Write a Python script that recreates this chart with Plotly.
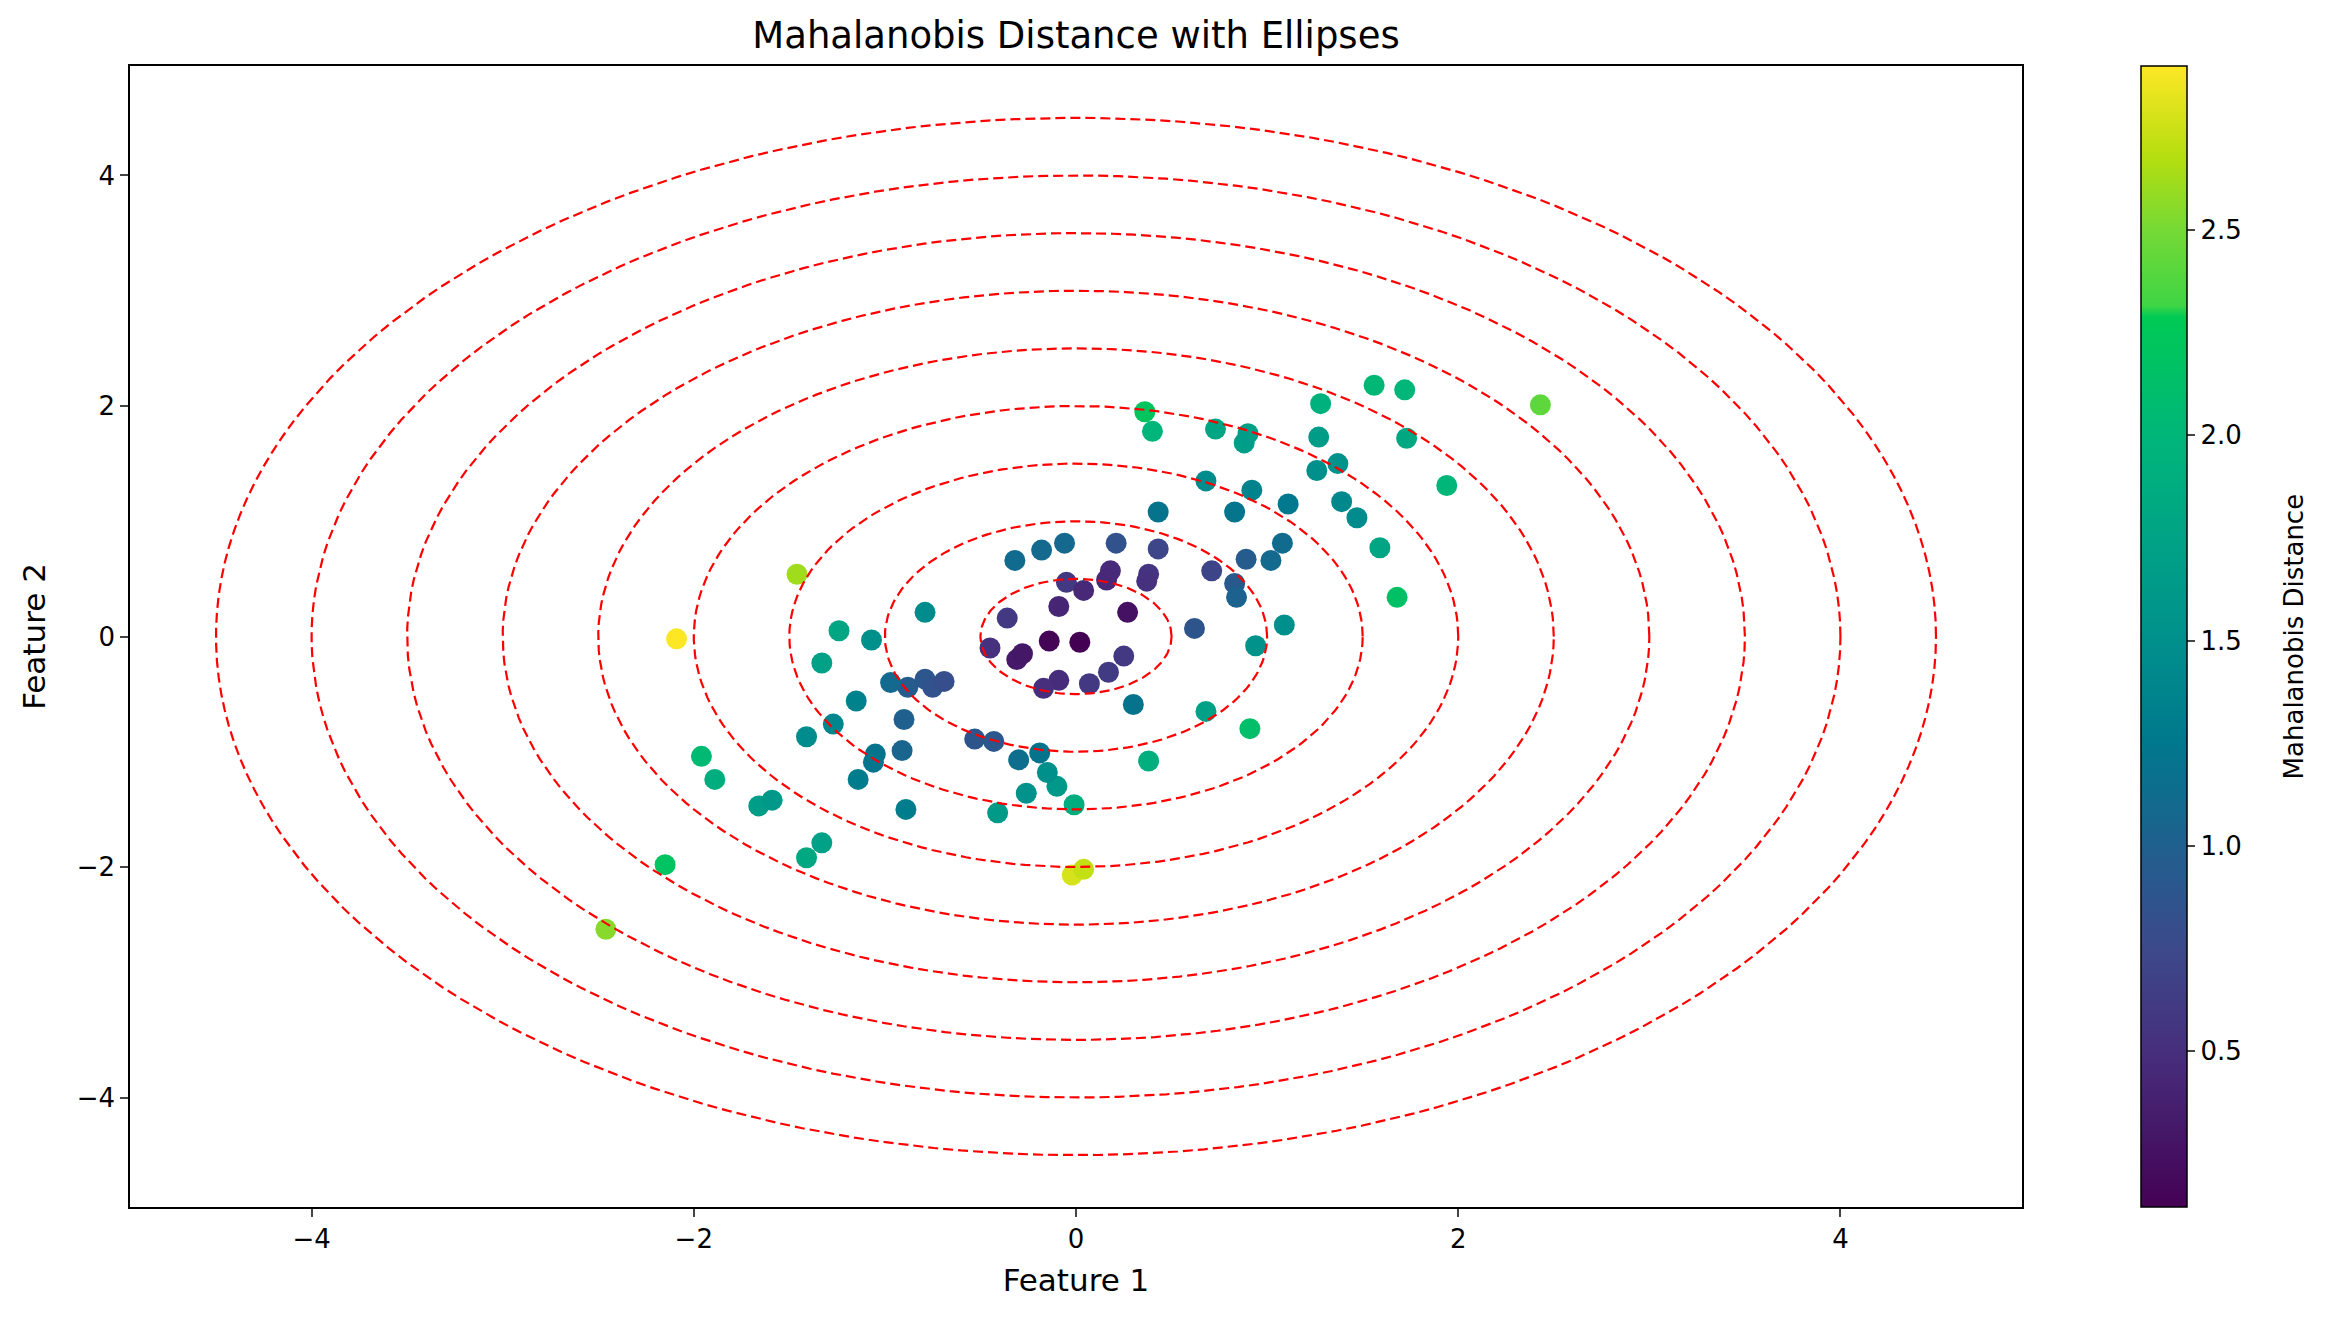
import numpy as np
import plotly.graph_objects as go

# Scatter points (Feature 1, Feature 2, Mahalanobis distance)
feature_1 = [
    2.43, 1.56, 1.72, 1.28, 0.36, 0.40, 0.73, 0.88, 0.90, 1.27,
    1.73, 1.94, 0.68, 0.92, 1.37, 1.26, 1.11, 1.39, 1.47, 0.43,
    0.83, 1.59, 1.68, 1.02, 1.08, 0.89, 0.83, 0.84, 1.09, 0.94,
    0.62, 0.71, 0.43, 0.21, 0.38, 0.37, 0.18, 0.16, -0.06, -0.18,
    -0.32, -0.05, 0.04, -0.09, 0.27, -0.36, -0.45, -0.14, 0.02, -0.31,
    -0.28, 0.25, 0.17, -0.09, -0.17, 0.07, 0.30, 0.68, 0.91, 0.38,
    -0.01, -0.10, -0.15, -0.19, -0.30, -0.26, -0.41, -0.53, -0.43, -0.02,
    0.04, -0.89, -0.91, -0.90, -0.88, -0.97, -0.79, -0.75, -0.69, -0.79,
    -1.07, -1.15, -1.27, -1.05, -1.06, -1.14, -1.41, -1.24, -1.33, -1.46,
    -2.09, -1.96, -1.89, -1.66, -1.59, -1.33, -1.41, -2.15, -2.46,
]
feature_2 = [
    2.01, 2.18, 2.14, 2.02, 1.95, 1.78, 1.80, 1.68, 1.76, 1.73,
    1.72, 1.31, 1.35, 1.27, 1.50, 1.44, 1.15, 1.17, 1.03, 1.08,
    1.08, 0.77, 0.34, 0.66, 0.81, 0.67, 0.46, 0.34, 0.10, -0.08,
    0.07, 0.57, 0.76, 0.81, 0.54, 0.48, 0.57, 0.49, 0.81, 0.75,
    0.66, 0.47, 0.40, 0.26, 0.21, 0.16, -0.10, -0.04, -0.05, -0.20,
    -0.15, -0.17, -0.31, -0.38, -0.45, -0.41, -0.59, -0.65, -0.80, -1.08,
    -1.46, -1.30, -1.18, -1.01, -1.07, -1.36, -1.53, -0.89, -0.91, -2.07,
    -2.02, -1.50, -0.99, -0.72, -0.44, -0.40, -0.37, -0.44, -0.39, 0.21,
    -0.03, -0.56, -0.76, -1.02, -1.09, -1.24, -0.87, 0.05, -0.23, 0.54,
    -0.02, -1.04, -1.24, -1.47, -1.42, -1.79, -1.92, -1.98, -2.54,
]
distance = [
    2.42, 2.02, 2.00, 1.93, 2.22, 1.98, 1.78, 1.68, 1.68, 1.66,
    1.82, 2.00, 1.45, 1.37, 1.52, 1.50, 1.25, 1.42, 1.45, 1.20,
    1.22, 1.78, 2.15, 1.10, 1.12, 0.95, 0.92, 1.02, 1.50, 1.52,
    0.88, 0.70, 0.72, 0.85, 0.55, 0.52, 0.47, 0.45, 1.08, 1.10,
    1.12, 0.60, 0.45, 0.42, 0.25, 0.60, 0.52, 0.15, 0.12, 0.32,
    0.30, 0.60, 0.62, 0.48, 0.50, 0.60, 1.20, 1.72, 2.12, 1.90,
    1.88, 1.62, 1.50, 1.20, 1.15, 1.52, 1.65, 0.88, 0.90, 2.78,
    2.72, 1.30, 1.05, 1.00, 0.95, 1.10, 0.90, 0.85, 0.80, 1.45,
    1.50, 1.35, 1.40, 1.20, 1.22, 1.30, 1.45, 1.78, 1.72, 2.62,
    2.90, 2.05, 1.88, 1.68, 1.62, 1.72, 1.82, 2.18, 2.55,
]

# Radii of the dashed ellipses (in data units)
ellipse_radii = [0.5, 1.0, 1.5, 2.0, 2.5, 3.0, 3.5, 4.0, 4.5]

# Colorbar ticks
cbar_ticks = [0.5, 1.0, 1.5, 2.0, 2.5]
cbar_ticktext = ["0.5", "1.0", "1.5", "2.0", "2.5"]

# Viridis-like colours as they appear in the reference colorbar
colorscale = [
    [0.0, "#440154"],
    [0.137, "#472f7d"],
    [0.23, "#3b4a8b"],
    [0.317, "#1f608e"],
    [0.407, "#00788d"],
    [0.496, "#00908c"],
    [0.586, "#00a386"],
    [0.676, "#00b679"],
    [0.78, "#00ca55"],
    [0.79, "#3fd545"],
    [0.856, "#75d935"],
    [0.92, "#b5de10"],
    [1.0, "#fde725"],
]

FONT = "DejaVu Sans"


def make_ellipse(radius: float, n: int = 200) -> go.Scatter:
    """
    Dashed red ellipse centred on the origin.

    Args:
        radius (float): Semi-axis length.
        n (int): Number of points along the outline.
    """
    theta = np.linspace(0, 2 * np.pi, n)
    return go.Scatter(
        x=radius * np.cos(theta),
        y=radius * np.sin(theta),
        mode="lines",
        line=dict(color="red", width=2.2, dash="10px,5px"),
        hoverinfo="skip",
        showlegend=False,
    )


fig = go.Figure()

fig.add_trace(
    go.Scatter(
        x=feature_1,
        y=feature_2,
        mode="markers",
        marker=dict(
            size=21,
            color=distance,
            colorscale=colorscale,
            line=dict(width=0),
            colorbar=dict(
                x=1.0576,
                xanchor="left",
                y=0.5,
                len=1.0,
                ypad=0,
                thickness=46,
                outlinewidth=1.5,
                outlinecolor="black",
                ticks="outside",
                ticklen=8,
                tickwidth=1.5,
                tickvals=cbar_ticks,
                ticktext=cbar_ticktext,
                tickfont=dict(size=26),
            ),
        ),
        showlegend=False,
    )
)

for r in ellipse_radii:
    fig.add_trace(make_ellipse(r))

axis_style = dict(
    showline=True,
    linecolor="black",
    linewidth=1.5,
    mirror=True,
    ticks="outside",
    ticklen=8,
    tickwidth=1.5,
    showgrid=False,
    zeroline=False,
    tickfont=dict(size=26),
)

fig.update_layout(
    width=2336,
    height=1327,
    margin=dict(l=122, r=322, t=58, b=128),
    paper_bgcolor="white",
    plot_bgcolor="white",
    font=dict(family=FONT, color="black", size=26),
    title=dict(
        text="Mahalanobis Distance with Ellipses",
        xref="paper",
        x=0.5,
        xanchor="center",
        y=1 - 27 / 1327,
        yanchor="middle",
        font=dict(size=37),
    ),
    xaxis=dict(
        range=[-4.95, 4.95],
        tickvals=[-4, -2, 0, 2, 4],
        title=dict(text="Feature 1", standoff=16),
        **axis_style,
    ),
    yaxis=dict(
        range=[-4.95, 4.95],
        tickvals=[-4, -2, 0, 2, 4],
        title=dict(text="Feature 2", standoff=22),
        **axis_style,
    ),
    annotations=[
        dict(
            text="Mahalanobis Distance",
            xref="paper",
            yref="paper",
            x=1.1437,
            y=0.5,
            xanchor="center",
            yanchor="middle",
            textangle=-90,
            showarrow=False,
            font=dict(size=26),
        )
    ],
)

fig.write_html("out.html")
